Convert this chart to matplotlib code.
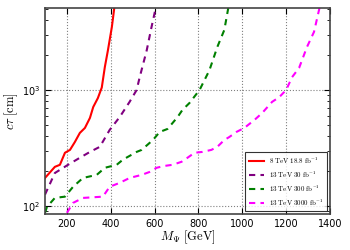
import matplotlib
matplotlib.use("Agg")
import matplotlib.pyplot as plt

plt.rcParams['mathtext.fontset'] = 'cm'

red_x = [100, 145, 168, 191, 214, 236, 259, 282, 305, 320, 341, 359, 373, 387, 405, 416]
red_y = [174, 217, 226, 287, 304, 355, 426, 470, 574, 713, 850, 1050, 1580, 2200, 3500, 5100]

pur_x = [100, 145, 205, 259, 305, 350, 395, 441, 486, 518, 532, 564, 586, 605]
pur_y = [125, 192, 226, 260, 292, 323, 452, 585, 790, 1000, 1290, 2200, 3500, 5100]

grn_x = [100, 109, 145, 191, 228, 273, 336, 373, 427, 455, 518, 541, 577, 600, 623, 659, 682,
         705, 727, 759, 805, 850, 886, 918, 936]
grn_y = [87, 98, 117, 120, 146, 174, 185, 213, 226, 250, 292, 304, 349, 385, 434, 461, 519,
         585, 673, 772, 1000, 1480, 2350, 3300, 5100]

mag_x = [200, 228, 273, 364, 395, 441, 486, 541, 577, 609, 645, 682, 723, 750, 782, 818, 859,
         886, 918, 941, 973, 1009, 1055, 1091, 1136, 1168, 1200, 1227, 1259, 1295, 1327, 1352]
mag_y = [87, 106, 117, 120, 146, 158, 174, 185, 196, 213, 221, 226, 240, 260, 287, 292, 304,
         323, 370, 393, 434, 470, 550, 634, 790, 865, 1000, 1290, 1550, 2350, 3170, 5100]

labels = [r'$\mathrm{8\ TeV\ 18.8\ fb^{-1}}$',
          r'$\mathrm{13\ TeV\ 30\ fb^{-1}}$',
          r'$\mathrm{13\ TeV\ 300\ fb^{-1}}$',
          r'$\mathrm{13\ TeV\ 3000\ fb^{-1}}$']

fig = plt.figure(figsize=(3.5, 2.5), dpi=100)
ax = fig.add_axes([45/350, 36/250, 285/350, 206/250])

dash = (0, (3, 2.5))
ax.plot(red_x, red_y, color='red', lw=1.5, label=labels[0])
ax.plot(pur_x, pur_y, color='purple', lw=1.5, ls=dash, label=labels[1])
ax.plot(grn_x, grn_y, color='green', lw=1.5, ls=dash, label=labels[2])
ax.plot(mag_x, mag_y, color='magenta', lw=1.5, ls=dash, label=labels[3])

ax.set_yscale('log')
ax.set_xlim(100, 1400)
ax.set_ylim(85, 5100)
ax.set_xticks([200, 400, 600, 800, 1000, 1200, 1400])
ax.grid(True, which='major', ls=':', color='gray', lw=0.8)
ax.tick_params(which='both', direction='in', top=True, right=True, labelsize=7)
ax.tick_params(which='major', length=4)
ax.tick_params(which='minor', length=2)
for s in ax.spines.values():
    s.set_color('#444444')
    s.set_linewidth(1.2)

ax.set_xlabel(r'$M_{\Psi}\ [\mathrm{GeV}]$', fontsize=9, labelpad=-0.5)
ax.set_ylabel(r'$c\tau\ [\mathrm{cm}]$', fontsize=9, labelpad=1)

leg = ax.legend(loc='lower right', fontsize=5, frameon=True, fancybox=False,
                handlelength=2.2, borderpad=0.5, labelspacing=0.55, handletextpad=0.8,
                borderaxespad=0.4)
leg.get_frame().set_edgecolor('black')
leg.get_frame().set_linewidth(0.8)

fig.savefig('out.png', dpi=100)
